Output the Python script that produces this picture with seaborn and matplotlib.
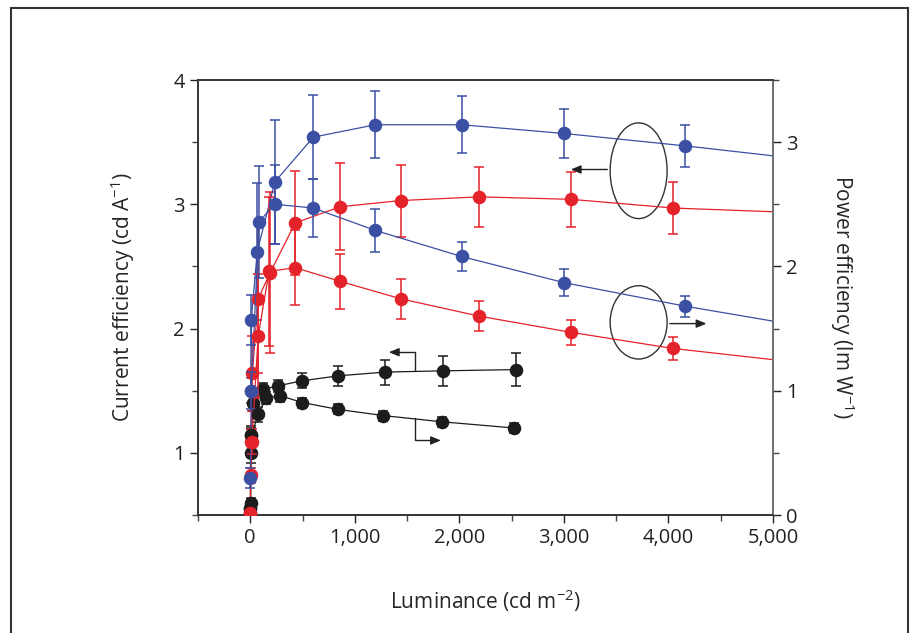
import matplotlib
matplotlib.use("Agg")
import matplotlib.pyplot as plt
from matplotlib.patches import Ellipse
from matplotlib.ticker import MultipleLocator, FuncFormatter
import seaborn as sns
import pandas as pd

# luminance (cd m-2) and efficiencies
blue_ce_x = [3, 10, 67, 235, 603, 1196, 2022, 3000, 4162]
blue_ce_y = [1.50, 2.07, 2.62, 3.18, 3.54, 3.64, 3.64, 3.57, 3.47]
blue_ce_err = [0.10, 0.20, 0.55, 0.50, 0.34, 0.27, 0.23, 0.20, 0.17]

blue_pe_x = [2, 10, 84, 235, 603, 1196, 2022, 3000, 4162]
blue_pe_y = [0.30, 1.00, 2.36, 2.50, 2.47, 2.29, 2.08, 1.87, 1.68]
blue_pe_err = [0.08, 0.15, 0.45, 0.32, 0.23, 0.17, 0.12, 0.11, 0.085]

red_ce_x = [2, 5, 20, 76, 191, 430, 860, 1438, 2190, 3067, 4045]
red_ce_y = [0.52, 1.09, 1.64, 2.24, 2.45, 2.85, 2.98, 3.03, 3.06, 3.04, 2.97]
red_ce_err = [0.05, 0.10, 0.30, 0.60, 0.65, 0.42, 0.35, 0.29, 0.24, 0.22, 0.21]

red_pe_x = [1, 5, 15, 76, 180, 430, 860, 1438, 2190, 3067, 4045]
red_pe_y = [0.02, 0.32, 0.59, 1.44, 1.96, 1.99, 1.88, 1.74, 1.60, 1.47, 1.34]
red_pe_err = [0.03, 0.06, 0.10, 0.50, 0.60, 0.30, 0.22, 0.16, 0.12, 0.10, 0.09]

black_ce_x = [1, 3, 8, 30, 123, 268, 497, 844, 1290, 1840, 2540]
black_ce_y = [0.56, 1.00, 1.14, 1.40, 1.51, 1.54, 1.58, 1.62, 1.65, 1.66, 1.67]
black_ce_err = [0.04, 0.08, 0.08, 0.06, 0.05, 0.05, 0.06, 0.08, 0.10, 0.12, 0.13]

black_pe_x = [1, 3, 10, 76, 153, 287, 497, 838, 1274, 1833, 2525]
black_pe_y = [0.05, 0.10, 0.64, 0.81, 0.94, 0.96, 0.905, 0.85, 0.80, 0.75, 0.70]
black_pe_err = [0.03, 0.04, 0.06, 0.06, 0.05, 0.05, 0.04, 0.04, 0.04, 0.04, 0.04]

# fitted curves continue to the right edge
curve_end_x = 5000
blue_ce_end, blue_pe_end = 3.39, 1.56
red_ce_end, red_pe_end = 2.94, 1.25

BLUE = "#3b4fa3"
RED = "#e42229"
BLACK = "#1c1c1c"

sns.set_style("ticks")
plt.rcParams["font.family"] = ["Open Sans", "DejaVu Sans"]
plt.rcParams["mathtext.default"] = "regular"

fig = plt.figure(figsize=(9.14, 6.33), dpi=100)
ax = fig.add_axes([0.2166, 0.1864, 0.6291, 0.6872])
ax2 = ax.twinx()


def draw(axis, xs, ys, errs, end_y, color):
    if end_y is not None:
        line = pd.DataFrame({"x": xs + [curve_end_x], "y": ys + [end_y]})
    else:
        line = pd.DataFrame({"x": xs, "y": ys})
    sns.lineplot(data=line, x="x", y="y", sort=False, color=color,
                 linewidth=0.9, ax=axis)
    axis.errorbar(xs, ys, yerr=errs, fmt="none", ecolor=color, elinewidth=1.3,
                  capsize=3.5, capthick=1.3, alpha=0.85)
    sns.scatterplot(x=xs, y=ys, color=color, s=95, edgecolor=color,
                    linewidth=0, ax=axis, zorder=5)


draw(ax, black_ce_x, black_ce_y, black_ce_err, None, BLACK)
draw(ax, red_ce_x, red_ce_y, red_ce_err, red_ce_end, RED)
draw(ax, blue_ce_x, blue_ce_y, blue_ce_err, blue_ce_end, BLUE)
draw(ax2, black_pe_x, black_pe_y, black_pe_err, None, BLACK)
draw(ax2, red_pe_x, red_pe_y, red_pe_err, red_pe_end, RED)
draw(ax2, blue_pe_x, blue_pe_y, blue_pe_err, blue_pe_end, BLUE)

ax.set_xlim(-500, 5000)
ax.set_ylim(0.5, 4)
ax2.set_ylim(0, 3.5)

ax.xaxis.set_major_locator(MultipleLocator(1000))
ax.xaxis.set_minor_locator(MultipleLocator(500))
ax.xaxis.set_major_formatter(FuncFormatter(lambda v, p: f"{int(v):,}"))
ax.yaxis.set_major_locator(MultipleLocator(1))
ax.yaxis.set_minor_locator(MultipleLocator(0.5))
ax2.yaxis.set_major_locator(MultipleLocator(1))
ax2.yaxis.set_minor_locator(MultipleLocator(0.5))

for a in (ax, ax2):
    a.tick_params(which="major", direction="out", length=6, width=1,
                  labelsize=14.5, colors="#222222")
    a.tick_params(which="minor", direction="out", length=4, width=1,
                  colors="#444444")
    for s in a.spines.values():
        s.set_linewidth(1.2)
        s.set_color("#333333")
ax2.spines["right"].set_color("#777777")

ax.set_xlabel("Luminance (cd m$^{-2}$)", fontsize=15, labelpad=28)
ax.set_ylabel("Current efficiency (cd A$^{-1}$)", fontsize=15, labelpad=26)
ax2.set_ylabel("Power efficiency (lm W$^{-1}$)", fontsize=15, rotation=-90,
               labelpad=42)

# ellipses and arrows marking which axis each pair belongs to
ax.add_patch(Ellipse((3715, 3.27), 545, 0.77, fill=False, edgecolor="#333333",
                     linewidth=1))
ax.add_patch(Ellipse((3715, 2.05), 545, 0.59, fill=False, edgecolor="#333333",
                     linewidth=1))
arrow = dict(arrowstyle="-|>,head_length=0.6,head_width=0.25", color="#222222",
             linewidth=1)
ax.annotate("", xy=(3040, 3.28), xytext=(3442, 3.28), arrowprops=arrow)
ax.annotate("", xy=(4390, 2.04), xytext=(3987, 2.04), arrowprops=arrow)
ax.plot([1577, 1577, 1360], [1.66, 1.81, 1.81], color="#222222", linewidth=1)
ax.annotate("", xy=(1300, 1.81), xytext=(1400, 1.81), arrowprops=arrow)
ax.plot([1577, 1577, 1780], [1.28, 1.10, 1.10], color="#222222", linewidth=1)
ax.annotate("", xy=(1850, 1.10), xytext=(1750, 1.10), arrowprops=arrow)

# thin frame around the whole figure
fig.patches.append(plt.Rectangle((0.012, -0.05), 0.981, 1.037, fill=False,
                                 edgecolor="#333333", linewidth=1.5,
                                 transform=fig.transFigure, figure=fig))

fig.savefig("out.png", dpi=100)
